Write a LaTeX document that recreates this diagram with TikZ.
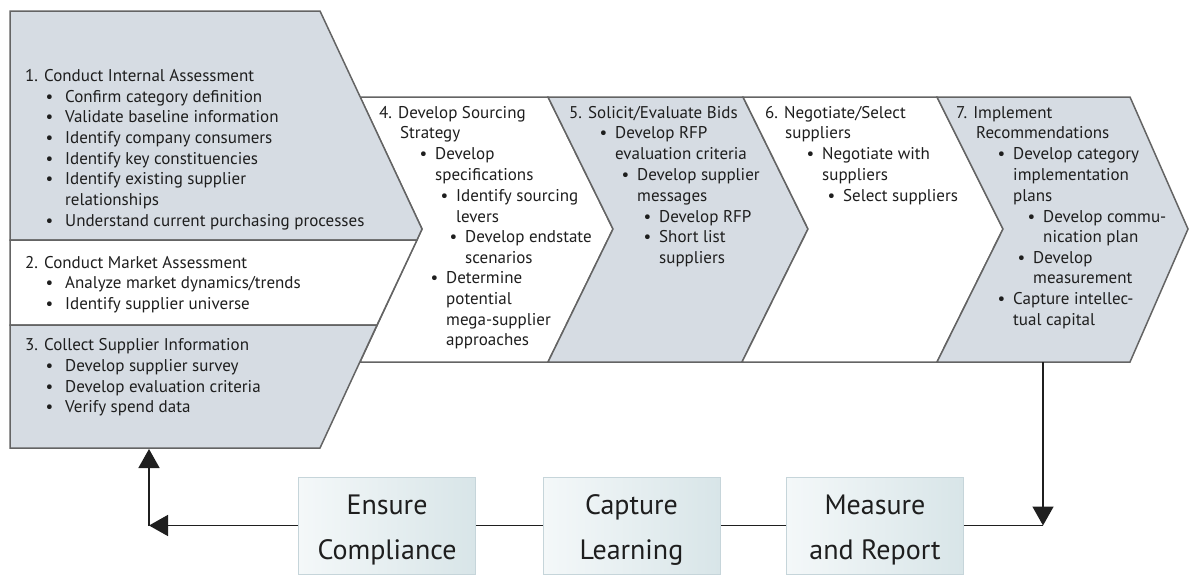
\documentclass[tikz,border=0pt]{standalone}
\usepackage{fontspec}
\setmainfont{PT Sans}
\usetikzlibrary{arrows.meta}
\definecolor{chevgray}{RGB}{214,220,227}
\definecolor{edgegray}{RGB}{100,100,100}
\definecolor{txtgray}{RGB}{30,30,30}
\definecolor{boxL}{RGB}{244,248,249}
\definecolor{boxR}{RGB}{216,229,232}
\definecolor{boxB}{RGB}{198,213,218}
\tikzset{
  chev/.style={draw=edgegray, line width=1.5pt, line join=miter},
  graychev/.style={chev, fill=chevgray},
  whitechev/.style={chev, fill=white},
  ln/.style={anchor=base west, inner sep=0pt, font=\fontsize{17}{20}\selectfont, text=txtgray},
  stage/.style={draw=boxB, line width=1pt, left color=boxL, right color=boxR,
    minimum width=177pt, minimum height=97pt},
  stagelbl/.style={align=center, inner sep=0pt, font=\fontsize{28}{45}\selectfont, text=txtgray},
  conn/.style={draw=black!88, line width=1.5pt},
  arr/.style={conn, -{Triangle[length=19pt,width=21pt]}},
}
\newcommand{\bl}[1][8pt]{\llap{\textbullet\hspace{#1}}}
\begin{document}
\begin{tikzpicture}[x=1pt,y=-1pt]
\useasboundingbox (0,0) rectangle (1191,576);
% chevrons 4-7
\path[whitechev] (360,97) -- (548,97) -- (613,229) -- (548,362) -- (360,362) -- (422,229) -- cycle;
\path[graychev] (548,97) -- (743,97) -- (808,229) -- (742,362) -- (548,362) -- (613,229) -- cycle;
\path[whitechev] (743,97) -- (937,97) -- (1003,229) -- (937,362) -- (742,362) -- (808,229) -- cycle;
\path[graychev] (937,97) -- (1130,97) -- (1188,229) -- (1130,362) -- (937,362) -- (1003,229) -- cycle;
% big chevron sections
\path[graychev] (10,11) -- (320,11) -- (422,229) -- (417,240) -- (10,240) -- cycle;
\path[whitechev] (10,240) -- (417,240) -- (377,325) -- (10,325) -- cycle;
\path[graychev] (10,325) -- (377,325) -- (320,448) -- (10,448) -- cycle;

% section 1-3 text
\foreach \xx/\yy/\lbl [count=\i] in {
  25/76/{1. Conduct Internal Assessment},
  65/97/{\bl[12pt]Confirm category definition},
  65/117/{\bl[12pt]Validate baseline information},
  65/138/{\bl[12pt]Identify company consumers},
  65/159/{\bl[12pt]Identify key constituencies},
  65/179/{\bl[12pt]Identify existing supplier},
  65/200/{relationships},
  65/221/{\bl[12pt]Understand current purchasing processes},
  25/263/{2. Conduct Market Assessment},
  65/283/{\bl[12pt]Analyze market dynamics/trends},
  65/304/{\bl[12pt]Identify supplier universe},
  25/345/{3. Collect Supplier Information},
  65/366/{\bl[12pt]Develop supplier survey},
  65/387/{\bl[12pt]Develop evaluation criteria},
  65/407/{\bl[12pt]Verify spend data}}
  \node[ln] (s1-\i) at (\xx,\yy+5) {\lbl};

% chevron 4 text
\foreach \xx/\yy/\lbl [count=\i] in {
  379/113/{4. Develop Sourcing},
  400/133/{Strategy},
  435/154/{\bl Develop},
  435/175/{specifications},
  456/196/{\bl Identify sourcing},
  456/217/{levers},
  465/237/{\bl Develop endstate},
  465/258/{scenarios},
  446/278/{\bl Determine},
  446/299/{potential},
  446/320/{mega-supplier},
  446/340/{approaches}}
  \node[ln] (c4-\i) at (\xx,\yy+5) {\lbl};

% chevron 5 text
\foreach \xx/\yy/\lbl [count=\i] in {
  569/113/{5. Solicit/Evaluate Bids},
  615/133/{\bl Develop RFP},
  615/154/{evaluation criteria},
  637/175/{\bl Develop supplier},
  637/196/{messages},
  659/217/{\bl Develop RFP},
  659/237/{\bl Short list},
  659/258/{suppliers}}
  \node[ln] (c5-\i) at (\xx,\yy+5) {\lbl};

% chevron 6 text
\foreach \xx/\yy/\lbl [count=\i] in {
  765/113/{6. Negotiate/Select},
  785/133/{suppliers},
  822/154/{\bl Negotiate with},
  822/175/{suppliers},
  843/196/{\bl Select suppliers}}
  \node[ln] (c6-\i) at (\xx,\yy+5) {\lbl};

% chevron 7 text
\foreach \xx/\yy/\lbl [count=\i] in {
  956/113/{7. Implement},
  976/133/{Recommendations},
  1013/154/{\bl Develop category},
  1013/175/{implementation},
  1013/196/{plans},
  1043/217/{\bl Develop commu-},
  1043/237/{nication plan},
  1033/258/{\bl Develop},
  1033/278/{measurement},
  1013/299/{\bl Capture intellec-},
  1013/320/{tual capital}}
  \node[ln] (c7-\i) at (\xx,\yy+5) {\lbl};

% bottom loop
\node[stage] (ensure) at (387,525.5) {};
\node[stage] (capture) at (631.5,525.5) {};
\node[stage] (measure) at (875,525.5) {};
\node[stagelbl] (ensure-t) at ([yshift=-4pt]ensure.center) {Ensure\\Compliance};
\node[stagelbl] (capture-t) at ([yshift=-4pt]capture.center) {Capture\\Learning};
\node[stagelbl] (measure-t) at ([yshift=-4pt]measure.center) {Measure\\and Report};

\coordinate (c7bot) at (1043,362);
\coordinate (cornerR) at (1043,525.5);
\coordinate (cornerL) at (149,525.5);
\coordinate (c1bot) at (149,449);

\draw[arr] (c7bot) -- (cornerR);
\draw[conn] (cornerR) -- (measure.east);
\draw[conn] (measure.west) -- (capture.east);
\draw[conn] (capture.west) -- (ensure.east);
\draw[arr] (ensure.west) -- (cornerL);
\draw[arr] (cornerL) -- (c1bot);
\end{tikzpicture}
\end{document}
